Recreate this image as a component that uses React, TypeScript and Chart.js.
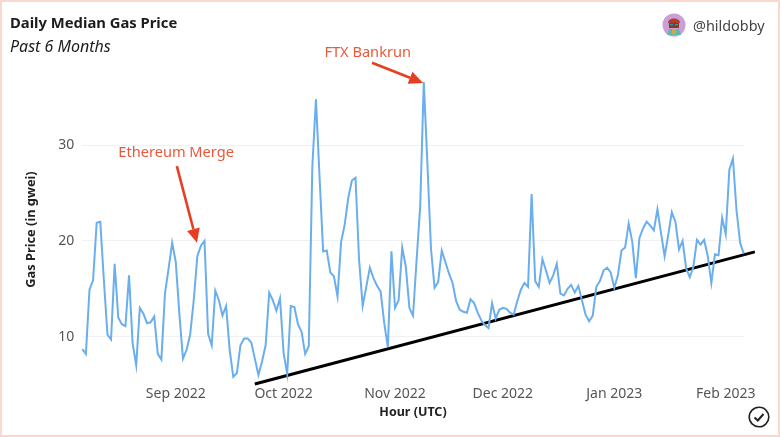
import { useEffect, useRef } from 'react'
import { Chart, registerables, type Plugin } from 'chart.js'

Chart.register(...registerables)

const FONT = '"Noto Sans", sans-serif'

// daily median gas price in gwei, one value per day from 6 Aug 2022
const gasAug = [8.7, 8.2, 14.9, 15.9, 21.9, 22.0, 15.9, 10.2, 9.7, 17.6, 12.0, 11.3, 11.1, 16.4, 9.3, 7.0, 13.0, 12.4, 11.4, 11.5, 12.1, 8.2, 7.6, 14.5, 17.1, 19.8]
const gasSep = [17.8, 12.4, 7.7, 8.6, 10.2, 13.8, 18.4, 19.5, 20.0, 10.3, 9.1, 14.8, 13.8, 12.2, 13.2, 8.6, 5.8, 6.2, 9.1, 9.8, 9.8, 9.4, 7.7, 6.0, 7.4, 9.1, 14.6, 13.8, 12.7, 14.0]
const gasOct = [8.3, 6.1, 13.2, 13.1, 11.3, 10.5, 8.2, 9.0, 27.8, 34.8, 26.7, 18.9, 19.0, 16.7, 16.3, 14.2, 19.9, 21.7, 24.5, 26.3, 26.6, 18.0, 13.2, 15.2, 17.2, 16.1, 15.3, 14.7, 11.4, 8.9, 18.9]
const gasNov = [13.0, 13.8, 19.3, 17.3, 13.0, 12.2, 18.0, 23.6, 36.6, 28.1, 19.2, 15.1, 15.7, 19.0, 17.8, 16.6, 15.6, 13.7, 12.8, 12.6, 12.5, 13.9, 13.5, 12.5, 11.7, 11.2, 10.9, 13.5, 11.9, 12.8]
const gasDec = [13.0, 12.9, 12.5, 12.3, 13.7, 14.9, 15.6, 15.2, 24.9, 15.8, 15.2, 18.1, 16.9, 15.6, 16.4, 17.6, 14.5, 14.3, 15.0, 15.4, 14.6, 15.3, 13.8, 12.3, 11.6, 12.2, 15.2, 15.8, 16.9, 17.2, 16.7]
const gasJan = [15.1, 16.4, 19.0, 19.3, 21.8, 19.9, 16.1, 20.3, 21.3, 22.0, 21.6, 21.1, 23.3, 20.8, 18.4, 20.6, 23.0, 22.0, 19.1, 20.0, 17.1, 16.2, 17.3, 20.1, 19.6, 20.1, 18.4, 15.6, 18.6, 18.5, 22.4]
const gasFeb = [20.7, 27.4, 28.6, 23.2, 19.8, 18.7]
const gasValues = [...gasAug, ...gasSep, ...gasOct, ...gasNov, ...gasDec, ...gasJan, ...gasFeb]

const monthDays = [26, 56, 87, 117, 148, 179]
const monthLabels = ['Sep 2022', 'Oct 2022', 'Nov 2022', 'Dec 2022', 'Jan 2023', 'Feb 2023']
const gweiTicks = [10, 20, 30]

// hand drawn support line, runs past the last day on purpose
const trendDays = [48, 187.1]
const trendGwei = [5.06, 18.85]

const noteLabels = ['Ethereum Merge', 'FTX Bankrun']
const noteTextDay = [26.1, 79.4]
const noteTextGwei = [29.2, 39.65]
const arrowFromDay = [26.3, 80.6]
const arrowFromGwei = [27.8, 38.6]
const arrowToDay = [31.9, 94.8]
const arrowToGwei = [19.8, 36.5]

const notesPlugin: Plugin<'line'> = {
  id: 'notes',
  afterDraw(chart) {
    const { ctx, scales } = chart
    const px = (d: number) => scales.x.getPixelForValue(d)
    const py = (g: number) => scales.y.getPixelForValue(g)
    ctx.save()
    noteLabels.forEach((label, i) => {
      ctx.font = `14.6px ${FONT}`
      ctx.fillStyle = '#e8593c'
      ctx.textAlign = 'center'
      ctx.textBaseline = 'middle'
      ctx.fillText(label, px(noteTextDay[i]), py(noteTextGwei[i]))

      const x0 = px(arrowFromDay[i])
      const y0 = py(arrowFromGwei[i])
      const x1 = px(arrowToDay[i])
      const y1 = py(arrowToGwei[i])
      const a = Math.atan2(y1 - y0, x1 - x0)
      const head = 14
      const bx = x1 - head * Math.cos(a)
      const by = y1 - head * Math.sin(a)
      ctx.strokeStyle = '#e63e22'
      ctx.fillStyle = '#e63e22'
      ctx.lineWidth = 2.6
      ctx.beginPath()
      ctx.moveTo(x0, y0)
      ctx.lineTo(bx, by)
      ctx.stroke()
      ctx.beginPath()
      ctx.moveTo(x1, y1)
      ctx.lineTo(bx - 6.5 * Math.sin(a), by + 6.5 * Math.cos(a))
      ctx.lineTo(bx + 6.5 * Math.sin(a), by - 6.5 * Math.cos(a))
      ctx.closePath()
      ctx.fill()
    })
    // y axis title sits lower than the plot centre in the original
    ctx.translate(31, 229.5)
    ctx.rotate(-Math.PI / 2)
    ctx.font = `bold 12.8px ${FONT}`
    ctx.fillStyle = '#222'
    ctx.textAlign = 'center'
    ctx.textBaseline = 'middle'
    ctx.fillText('Gas Price (in gwei)', 0, 0)
    ctx.restore()
  },
}

function Avatar() {
  return (
    <svg width="24" height="24" viewBox="0 0 24 24" style={{ position: 'absolute', left: 662, top: 13 }}>
      <circle cx="12" cy="12" r="11.5" fill="#cb9fd6" />
      <path d="M6 10 C6 4 18 4 18 10 Z" fill="#b5392f" />
      <rect x="7" y="10" width="10" height="5" fill="#7a3b30" />
      <rect x="8" y="11" width="3" height="1.5" fill="#2e9c8f" />
      <rect x="13" y="11" width="3" height="1.5" fill="#2e9c8f" />
      <path d="M5 22 L7 16 H17 L19 22 Z" fill="#5fb8b0" />
      <rect x="10" y="16" width="4" height="5" fill="#d9a441" />
    </svg>
  )
}

function CheckBadge() {
  return (
    <svg width="24" height="24" viewBox="0 0 24 24" style={{ position: 'absolute', left: 747, top: 405 }}>
      <circle cx="12" cy="12" r="9.8" fill="none" stroke="#222" strokeWidth="1.6" />
      <path d="M7.5 12.5 L10.8 15.5 L16.5 9" fill="none" stroke="#222" strokeWidth="2" />
    </svg>
  )
}

export default function App() {
  const chartRef = useRef<HTMLCanvasElement>(null)

  useEffect(() => {
    if (!chartRef.current) return
    const chart = new Chart(chartRef.current, {
      type: 'line',
      data: {
        datasets: [
          {
            label: 'Gas Price',
            data: gasValues.map((y, x) => ({ x, y })),
            borderColor: '#6aaeee',
            borderWidth: 2,
            pointRadius: 0,
            clip: false,
          },
          {
            label: 'Trend',
            data: trendDays.map((x, i) => ({ x, y: trendGwei[i] })),
            borderColor: '#000000',
            borderWidth: 3,
            pointRadius: 0,
            clip: false,
          },
        ],
      },
      options: {
        responsive: false,
        animation: false,
        layout: { padding: { left: 10, right: 36.3, top: 15, bottom: 0 } },
        plugins: {
          legend: { display: false },
          tooltip: { enabled: false },
          title: {
            display: true,
            text: 'Daily Median Gas Price',
            align: 'start',
            color: '#1c1c1c',
            font: { family: FONT, size: 14.8, weight: 'bold', lineHeight: 1.2 },
            padding: { top: 0, bottom: 5 },
          },
          subtitle: {
            display: true,
            text: 'Past 6 Months',
            align: 'start',
            color: '#1c1c1c',
            font: { family: FONT, size: 16, style: 'italic', lineHeight: 1.2 },
            padding: { top: 0, bottom: 2 },
          },
        },
        scales: {
          x: {
            type: 'linear',
            min: 0,
            max: 184,
            afterFit: (scale) => {
              scale.height = 52.5
            },
            afterBuildTicks: (scale) => {
              scale.ticks = monthDays.map((value) => ({ value }))
            },
            grid: { display: false, drawTicks: false },
            border: { display: false },
            ticks: {
              autoSkip: false,
              maxRotation: 0,
              padding: 1,
              color: '#555',
              font: { family: FONT, size: 14 },
              callback: (value) => monthLabels[monthDays.indexOf(Number(value))],
            },
            title: {
              display: true,
              text: 'Hour (UTC)',
              color: '#222',
              font: { family: FONT, size: 12.5, weight: 'bold' },
              padding: { top: 0, bottom: 17 },
            },
          },
          y: {
            min: 5,
            max: 39,
            afterFit: (scale) => {
              scale.width = 72.3
            },
            afterBuildTicks: (scale) => {
              scale.ticks = gweiTicks.map((value) => ({ value }))
            },
            grid: { color: '#f1f1f1', drawTicks: false },
            border: { display: false },
            ticks: {
              padding: 8,
              color: '#555',
              font: { family: FONT, size: 14 },
            },
          },
        },
      },
      plugins: [notesPlugin],
    })
    return () => chart.destroy()
  }, [])

  return (
    <div style={{ position: 'relative', width: 780, height: 437, background: '#fff', overflow: 'hidden' }}>
      <style>{'body{margin:0}'}</style>
      <canvas ref={chartRef} width={780} height={437} style={{ display: 'block' }} />
      <Avatar />
      <span style={{ position: 'absolute', left: 693, top: 16, fontFamily: FONT, fontSize: 14.4, lineHeight: '20px', color: '#444' }}>
        @hildobby
      </span>
      <CheckBadge />
      <div style={{ position: 'absolute', inset: 0, boxSizing: 'border-box', border: '2px solid #fbd8ce', pointerEvents: 'none' }} />
    </div>
  )
}
